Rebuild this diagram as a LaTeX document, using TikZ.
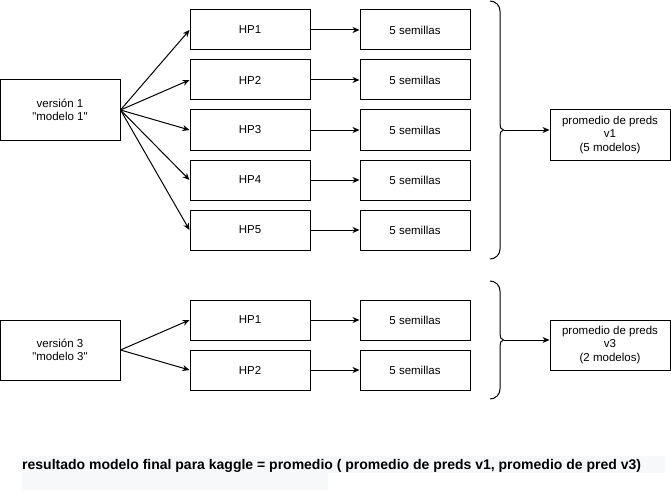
\documentclass[tikz,border=0pt]{standalone}
\usepackage{fontspec}
\setmainfont{Liberation Sans}
\usetikzlibrary{arrows.meta}
\newcommand{\sq}{\XeTeXglyph\XeTeXcharglyph"22\relax}
\begin{document}
\begin{tikzpicture}[x=1pt,y=-1pt,
  box/.style={draw,line width=1pt,rectangle,minimum width=120pt,minimum height=40pt,inner sep=0pt,align=center,font=\fontsize{11.5}{13.5}\selectfont},
  sbox/.style={box,minimum width=110pt},
  vbox/.style={box,minimum height=60pt},
  rbox/.style={box,minimum height=50pt},
  arr/.style={line width=1pt,-{Stealth[length=7pt,width=6pt]}},
  brace/.style={line width=1pt}]
\useasboundingbox (0,0) rectangle (671,492);
% upper group
\node[vbox] (v1) at (60,110) {versión 1\\\sq modelo 1\sq};
\foreach \i/\y in {1/30,2/80,3/130,4/180,5/230}{
  \node[box] (hp\i) at (250,\y) {HP\i};
  \node[sbox] (s\i) at (415,\y) {5 semillas};
  \draw[arr] (v1.east) -- (hp\i.west);
  \draw[arr] (hp\i.east) -- (s\i.west);
}
\draw[brace] (490,1) to[out=0,in=90] (500,11) -- (500,124) to[out=-90,in=180] (503.5,130) coordinate (t1)
  to[out=180,in=90] (500,136) -- (500,249) to[out=-90,in=0] (490,259);
\node[rbox] (p1) at (610,135) {promedio de preds\\v1\\(5 modelos)};
\draw[arr] (t1) -- (p1.west |- t1);
% lower group
\node[vbox] (v3) at (60,350) {versión 3\\\sq modelo 3\sq};
\foreach \i/\y in {1/320,2/370}{
  \node[box] (hq\i) at (250,\y) {HP\i};
  \node[sbox] (q\i) at (415,\y) {5 semillas};
  \draw[arr] (v3.east) -- (hq\i.west);
  \draw[arr] (hq\i.east) -- (q\i.west);
}
\draw[brace] (490,281) to[out=0,in=90] (500,291) -- (500,334) to[out=-90,in=180] (503.5,340) coordinate (t3)
  to[out=180,in=90] (500,346) -- (500,389) to[out=-90,in=0] (490,399);
\node[rbox] (p3) at (610,345) {promedio de preds\\v3\\(2 modelos)};
\draw[arr] (t3) -- (p3.west |- t3);
% bottom
\definecolor{bandgray}{HTML}{F7F8FA}
\fill[bandgray] (22,456) rectangle (665,473);
\fill[bandgray] (22,473) rectangle (328,490);
\node[anchor=base west,inner sep=0pt,font=\fontsize{14}{16}\selectfont\bfseries] (res) at (22,469.5) {resultado modelo final para kaggle = promedio ( promedio de preds v1, promedio de pred v3)};
\end{tikzpicture}
\end{document}
